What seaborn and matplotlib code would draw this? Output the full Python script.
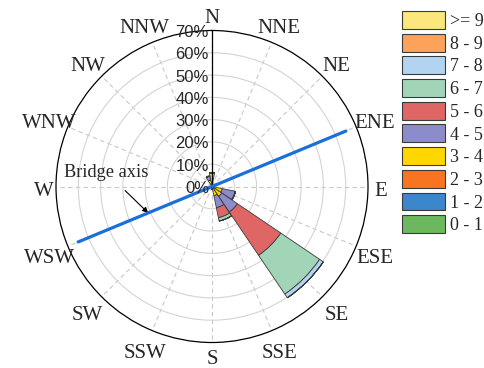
import numpy as np
import matplotlib
matplotlib.use("Agg")
import matplotlib.pyplot as plt
import matplotlib.transforms as mtransforms
from matplotlib.patches import Patch
import seaborn as sns

# wind directions (compass order, clockwise from north)
directions = ['N', 'NNE', 'NE', 'ENE', 'E', 'ESE', 'SE', 'SSE',
              'S', 'SSW', 'SW', 'WSW', 'W', 'WNW', 'NW', 'NNW']

# speed classes (m/s)
speed_bins = ['0 - 1', '1 - 2', '2 - 3', '3 - 4', '4 - 5',
              '5 - 6', '6 - 7', '7 - 8', '8 - 9', '>= 9']

# frequency (%) of each speed class per direction
freq_0_1 = [0.1, 0, 0, 0, 0, 0.1, 0.1, 0.1, 0.1, 0, 0, 0, 0, 0, 0, 0.1]
freq_1_2 = [0.2, 0, 0, 0, 0, 0.2, 0.2, 0.2, 0.1, 0, 0, 0, 0, 0, 0, 0.2]
freq_2_3 = [0.4, 0.1, 0, 0, 0.1, 0.4, 0.5, 0.4, 0.2, 0, 0, 0, 0, 0, 0, 0.3]
freq_3_4 = [5.2, 0.3, 0, 0, 0.3, 4.0, 4.5, 3.5, 0.8, 0, 0, 0, 0, 0, 0.2, 2.4]
freq_4_5 = [0.4, 0, 0, 0, 0, 6.0, 8.5, 5.5, 0, 0, 0, 0, 0, 0, 0, 1.8]
freq_5_6 = [0, 0, 0, 0, 0, 0, 23.5, 4.6, 0, 0, 0, 0, 0, 0, 0, 0]
freq_6_7 = [0, 0, 0, 0, 0, 0, 21.0, 1.5, 0, 0, 0, 0, 0, 0, 0, 0]
freq_7_8 = [0, 0, 0, 0, 0, 0, 2.0, 0, 0, 0, 0, 0, 0, 0, 0, 0]
freq_8_9 = [0] * 16
freq_9_up = [0] * 16

radial_ticks = [0, 10, 20, 30, 40, 50, 60, 70]

sns.set_style("white")
plt.rcParams['font.family'] = ['Liberation Serif', 'DejaVu Serif']

colors = sns.color_palette(['#6DB85E', '#3C86CC', '#F97420', '#FFD700', '#8C8CCB',
                            '#E06666', '#A2D5B8', '#B3D4F0', '#FDA25A', '#FCE77C'])

fig = plt.figure(figsize=(4.85, 3.68), dpi=100)
ax = fig.add_axes([56 / 485, 1 - 342.5 / 368, 312 / 485, 312 / 368], projection='polar')
ax.set_theta_zero_location('N')
ax.set_theta_direction(-1)

theta = np.deg2rad(np.arange(16) * 22.5)
width = np.deg2rad(22.5) * 0.97

all_freqs = [freq_0_1, freq_1_2, freq_2_3, freq_3_4, freq_4_5,
             freq_5_6, freq_6_7, freq_7_8, freq_8_9, freq_9_up]
bottom = np.zeros(16)
for vals, col in zip(all_freqs, colors):
    vals = np.array(vals, dtype=float)
    ax.bar(theta, vals, width=width, bottom=bottom, color=col,
           edgecolor='#3a3a3a', linewidth=0.6, zorder=3)
    bottom += vals

ax.set_ylim(0, 70)
ax.set_rgrids(radial_ticks[1:-1], labels=[''] * 6)
ax.yaxis.grid(True, color='#d4d4d4', linestyle='-', linewidth=0.8)
ax.set_thetagrids(np.arange(16) * 22.5, labels=[''] * 16)
ax.xaxis.grid(True, color='#c8c8c8', linestyle=(0, (4, 3)), linewidth=0.8)
ax.tick_params(axis='x', direction='in', length=4, width=0.8, colors='black')
ax.spines['polar'].set_color('black')
ax.spines['polar'].set_linewidth(0.9)

# compass labels outside the circle
dir_tr = mtransforms.offset_copy(ax.transData, fig=fig, x=0, y=-2, units='dots')
for i, (t, name) in enumerate(zip(theta, directions)):
    if i == 0:
        r_lab = 77.5
    elif i % 4 == 0:
        r_lab = 75.5
    else:
        r_lab = 79
    ax.text(t, r_lab, name, transform=dir_tr, ha='center', va='center_baseline',
            fontsize=15, clip_on=False)

# radial axis along north with percentage labels
ax.plot([0, 0], [0, 70], color='black', linewidth=0.9, zorder=4)
lab_tr = mtransforms.offset_copy(ax.transData, fig=fig, x=-3, y=-2, units='dots')
for r in radial_ticks:
    ax.text(0, r, f'{r}%', transform=lab_tr, ha='right', va='center',
            fontsize=12, family=['Liberation Sans', 'DejaVu Sans'], zorder=5)

# bridge axis line WSW - ENE
ene = np.deg2rad(67.5)
wsw = np.deg2rad(247.5)
ax.plot([ene, ene, wsw], [65, 0, 65], color='#1A6FDB', linewidth=2.3, zorder=4)
ax.annotate('Bridge axis', xy=(wsw, 31), xycoords='data',
            xytext=(106 / 485, 1 - 172 / 368), textcoords='figure fraction',
            ha='center', va='center', fontsize=13.2,
            arrowprops=dict(arrowstyle='-|>', color='black', lw=0.8,
                            mutation_scale=8, shrinkA=7, shrinkB=0))

handles = [Patch(facecolor=c, edgecolor='#3a3a3a', linewidth=0.8) for c in colors]
fig.legend(handles[::-1], speed_bins[::-1], loc='upper left',
           bbox_to_anchor=(402 / 485, 1 - 11 / 368), frameon=False,
           fontsize=13, handlelength=2.4, handleheight=1.15,
           labelspacing=0.2, handletextpad=0.25, borderpad=0, borderaxespad=0)

fig.savefig('out.png', dpi=100)
